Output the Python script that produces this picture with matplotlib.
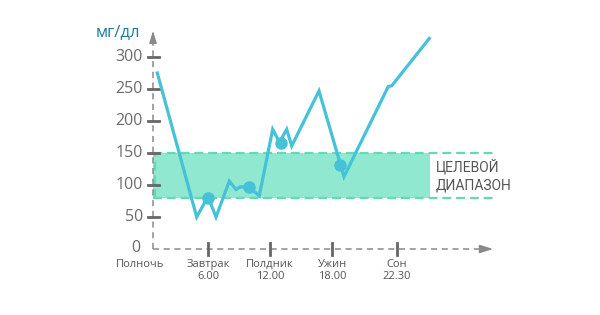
import matplotlib
matplotlib.use('Agg')
import matplotlib.pyplot as plt

# glucose curve, x in chart units (time axis is not linear in hours)
curve_x = [0.43, 4.37, 5.5, 6.3, 7.63, 8.3, 8.7, 9.6, 10.63, 11.97, 12.65,
           13.37, 13.87, 16.6, 19.1, 23.53, 23.87, 27.63]
curve_y = [275, 50, 82, 50, 106, 93, 97, 97, 83, 187, 167,
           187, 161, 247, 113, 254, 255, 329]

# measurement dots
dot_x = [5.5, 9.6, 12.75, 18.7]
dot_y = [79, 97, 165, 132]

# target range
band_low = 80
band_high = 150
band_end = 27.7

y_ticks = [0, 50, 100, 150, 200, 250, 300]
x_ticks = [5.5, 11.7, 17.9, 24.4]
x_labels = ['Завтрак\n6.00', 'Полдник\n12.00', 'Ужин\n18.00', 'Сон\n22.30']

LINE = '#45c2d8'
GREEN = '#8fe8cf'
GREEN_EDGE = '#62dab2'
AXIS = '#8a8a8a'
TEXT = '#555555'

fig = plt.figure(figsize=(6, 3.15), dpi=100)
ax = fig.add_axes([0, 0, 1, 1])
ax.set_xlim(-15.3, 44.7)
ax.set_ylim(-103.125, 389.0625)
ax.axis('off')

# target band
ax.fill_between([0, band_end], band_low, band_high, color=GREEN, lw=0, zorder=1)
for yv in (band_low, band_high):
    ax.plot([0, 34], [yv, yv], color=GREEN_EDGE, lw=1.6, ls=(0, (4, 2.2)), zorder=2)
ax.plot([0.2, 0.2], [band_low, band_high], color=GREEN_EDGE, lw=1.6, ls=(0, (4, 2.2)), zorder=2)
ax.text(28.3, 128, 'ЦЕЛЕВОЙ', fontsize=10, family='Roboto', color=TEXT, va='center', ha='left')
ax.text(28.3, 100, 'ДИАПАЗОН', fontsize=10, family='Roboto', color=TEXT, va='center', ha='left')

# axes
ax.plot([0, 0], [0, 335], color=AXIS, lw=1.1, ls=(0, (4, 3)), zorder=3)
ax.plot([0, 33.5], [0, 0], color=AXIS, lw=1.1, ls=(0, (4, 3)), zorder=3)
ax.annotate('', xy=(0, 345), xytext=(0, 330),
            arrowprops=dict(arrowstyle='-|>,head_length=0.7,head_width=0.22', color=AXIS, lw=1.1))
ax.annotate('', xy=(34.3, 0), xytext=(33, 0),
            arrowprops=dict(arrowstyle='-|>,head_length=0.8,head_width=0.25', color=AXIS, lw=1.1))

for yv in y_ticks:
    if yv > 0:
        ax.plot([-0.5, 0.6], [yv, yv], color='#666666', lw=2, zorder=4)
        ax.text(-1.0, yv, str(yv), fontsize=11.5, family='Open Sans',
                color='#6b6b6b', ha='right', va='center')
    else:
        ax.text(-1.3, 2, str(yv), fontsize=11.5, family='Open Sans',
                color='#6b6b6b', ha='right', va='center')

for xv, lab in zip(x_ticks, x_labels):
    ax.plot([xv, xv], [-9.4, 9.4], color='#666666', lw=2, zorder=4)
    ax.text(xv, -15, lab, fontsize=8, family='Open Sans', color=TEXT,
            ha='center', va='top', linespacing=1.2)
ax.text(-1.3, -15, 'Полночь', fontsize=8, family='Open Sans', color=TEXT, ha='center', va='top')

ax.text(-1.3, 339, 'мг/дл', fontsize=12, family='Open Sans', color='#1d7b9c', ha='right', va='center')

# glucose line and dots
ax.plot(curve_x, curve_y, color=LINE, lw=2.3, solid_joinstyle='miter', zorder=5)
ax.plot(dot_x, dot_y, 'o', color=LINE, markersize=8, zorder=6)

fig.savefig('out.png', dpi=100)
